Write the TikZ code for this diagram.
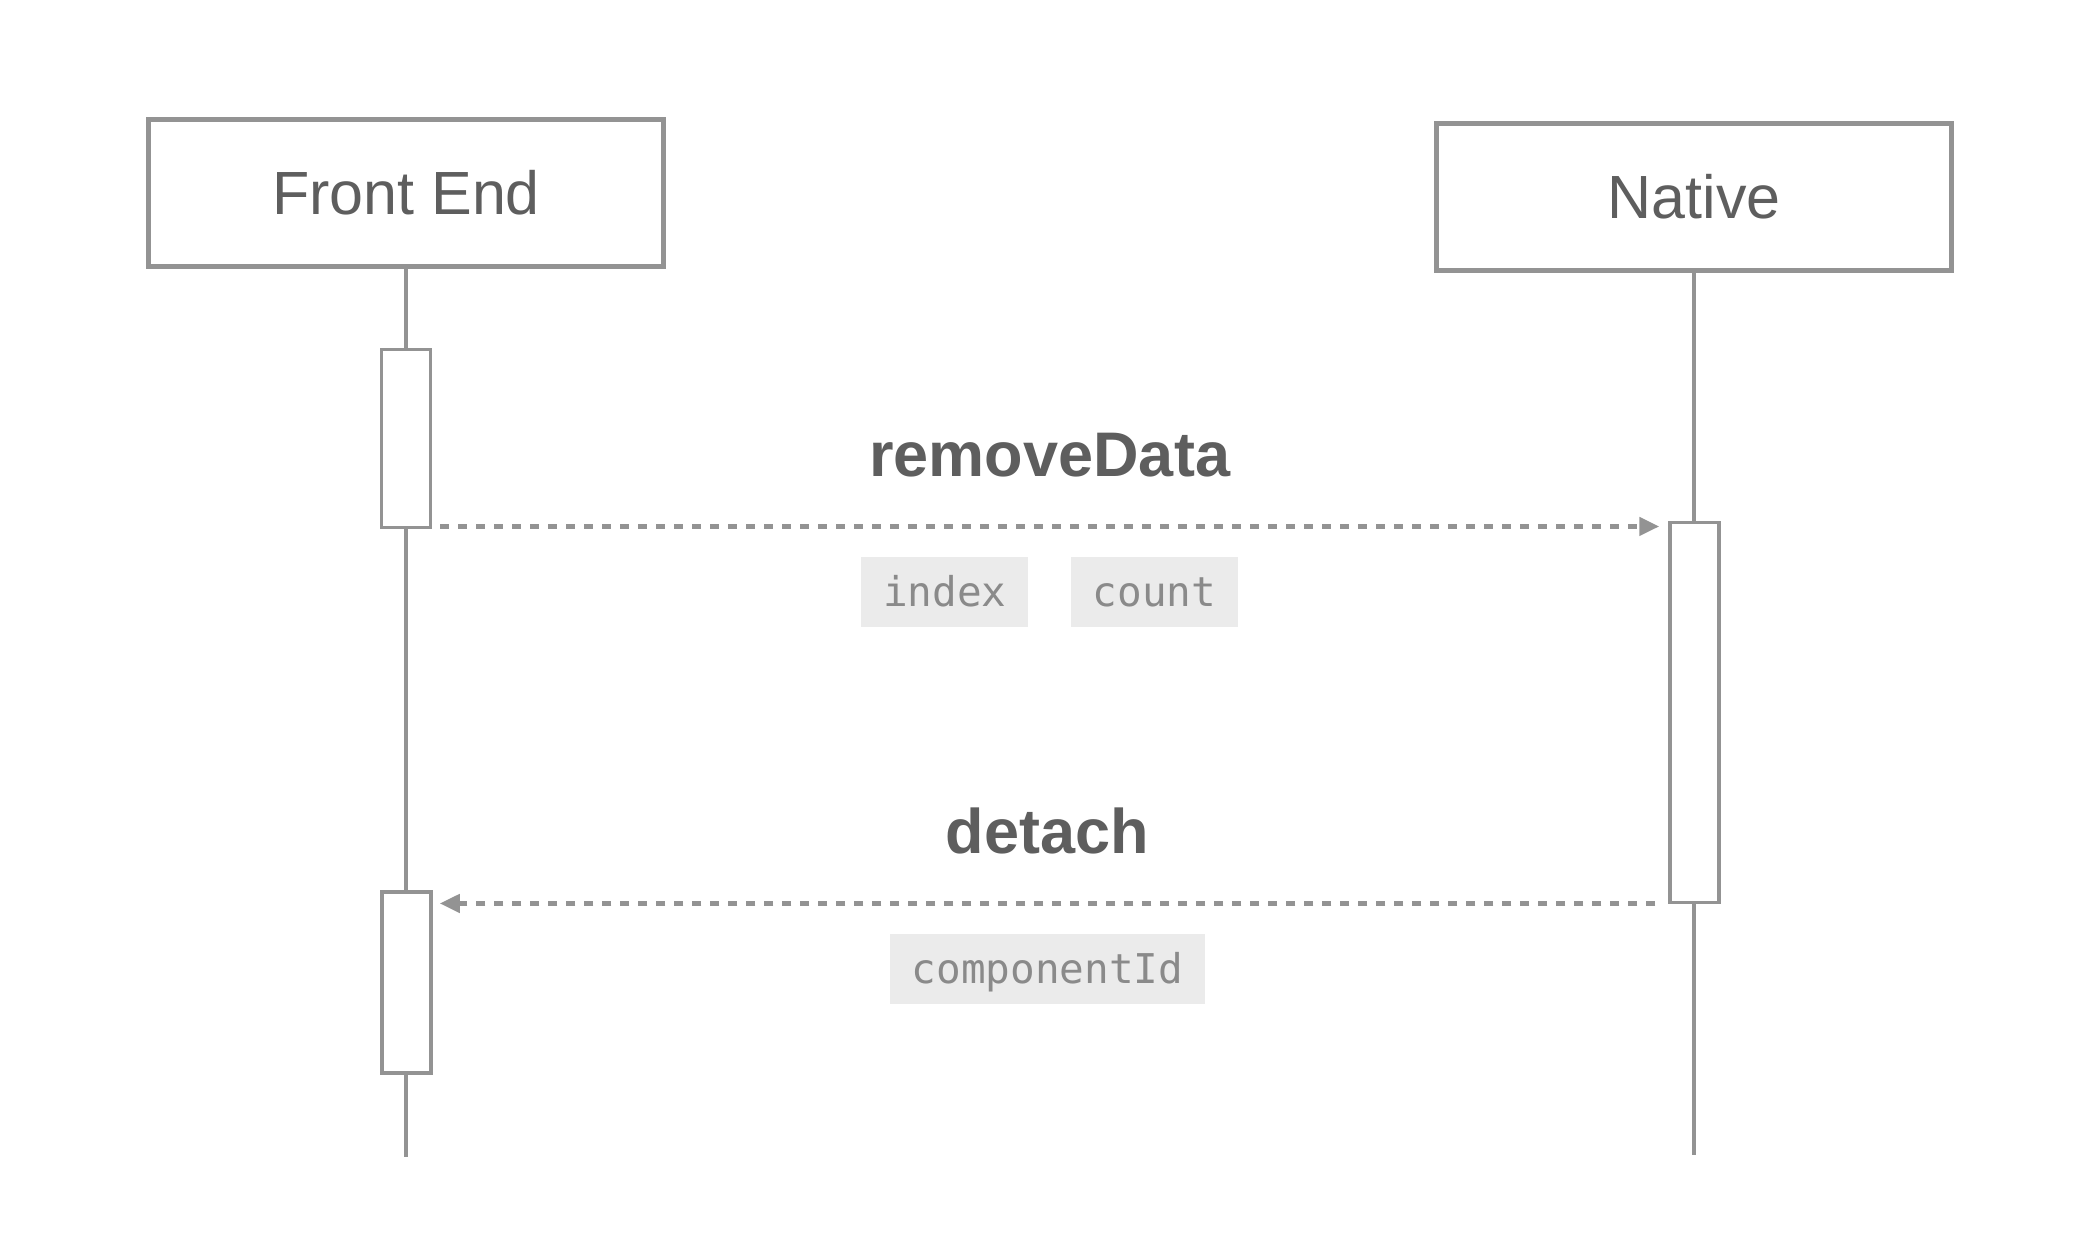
\documentclass[tikz,border=0pt]{standalone}
\usepackage{fontspec}
\setmainfont{Liberation Sans}
\newfontfamily\codefont{DejaVu Sans Mono}
\usepackage{tikz}
\usetikzlibrary{arrows.meta}
\usetikzlibrary{positioning}

\definecolor{linegray}{HTML}{939393}
\definecolor{labelgray}{HTML}{5E5E5E}
\definecolor{argfill}{HTML}{EBEBEB}
\definecolor{argtext}{HTML}{8A8A8A}

\begin{document}
\begin{tikzpicture}[x=1pt,y=-1pt,
  actor/.style={draw=linegray,line width=4.5pt,minimum width=515pt,minimum height=147pt,
    text=labelgray,font=\fontsize{61}{70}\selectfont},
  life/.style={draw=linegray,line width=4.5pt},
  act/.style={draw=linegray,fill=white,line width=3.5pt,minimum width=49pt,inner sep=0pt},
  msg/.style={draw=linegray,line width=4.5pt,dash pattern=on 9pt off 9pt,
    -{Triangle[length=20pt,width=18pt]}},
  call/.style={text=labelgray,inner sep=0pt,font=\fontsize{63}{72}\selectfont\bfseries},
  arg/.style={fill=argfill,text=argtext,inner xsep=22pt,inner ysep=0pt,minimum height=70pt,
    text height=29pt,text depth=0pt,font=\fontsize{41}{48}\codefont}]

  \useasboundingbox (0,0) rectangle (2090,1240);

  \node[actor] (fe) at (406,193) {Front End};
  \node[actor] (na) at (1694,197) {Native};
  \coordinate (feend) at (fe.south |- 0,1157);
  \coordinate (naend) at (na.south |- 0,1155);

  \draw[life] (fe.south) -- (feend);
  \draw[life] (na.south) -- (naend);

  \node[act,minimum height=178pt] (fe1) at (406,438.7) {};
  \node[act,minimum height=380pt] (na1) at (1694.5,712.7) {};
  \node[act,minimum height=181pt] (fe2) at (406.5,982.7) {};

  % removeData
  \draw[msg] ([xshift=8pt,yshift=3pt]fe1.south east)
    -- coordinate[midway] (m1) ([xshift=-9pt,yshift=3pt]fe1.south east -| na1.west)
    node[call,above=47pt] at (m1) {removeData};
  \node[arg,below=30pt of m1,xshift=-105pt] (idx) {index};
  \node[arg,right=42pt of idx] (cnt) {count};

  % detach
  \draw[msg] ([xshift=-13pt,yshift=1pt]na1.south west)
    -- coordinate[midway] (m2) ([xshift=7pt,yshift=1pt]na1.south west -| fe2.east)
    node[call,above=47pt] at (m2) {detach};
  \node[arg,below=30pt of m2] (cid) {componentId};
\end{tikzpicture}
\end{document}
